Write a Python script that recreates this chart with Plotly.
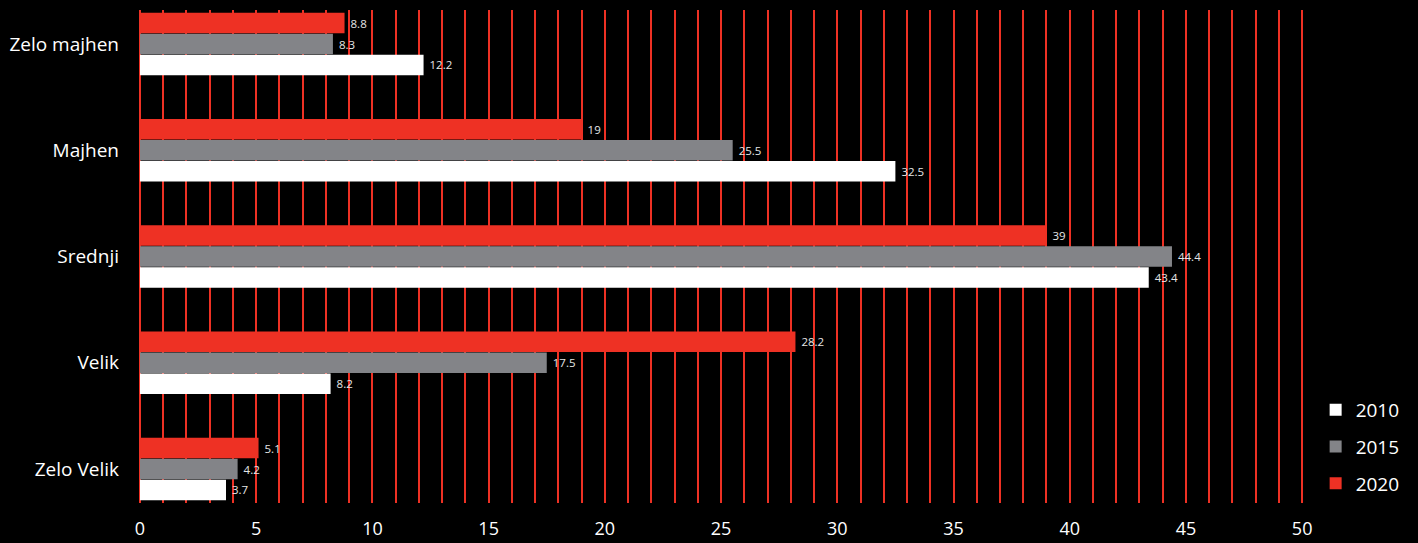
import plotly.graph_objects as go

categories = ["Zelo majhen", "Majhen", "Srednji", "Velik", "Zelo Velik"]
years = ["2010", "2015", "2020"]
v2010 = [12.2, 32.5, 43.4, 8.2, 3.7]
v2015 = [8.3, 25.5, 44.4, 17.5, 4.2]
v2020 = [8.8, 19, 39, 28.2, 5.1]
colors = ["#ffffff", "#838488", "#ee3124"]

fig = go.Figure()
for name, vals, col in zip(years, [v2010, v2015, v2020], colors):
    fig.add_trace(go.Bar(
        y=categories, x=vals, name=name, orientation="h", legendgroup=name,
        marker=dict(color=col, line=dict(width=0)),
        text=["\u00a0" + str(v) for v in vals], textposition="outside",
        textfont=dict(size=11.5, color="#e6e6e6", family="Open Sans"),
        cliponaxis=False,
    ))

fig.update_layout(
    width=1418, height=543,
    paper_bgcolor="black", plot_bgcolor="black",
    margin=dict(l=140, r=114, t=10, b=40),
    barmode="group", bargap=0.41, bargroupgap=0.02,
    font=dict(family="Open Sans", color="white", size=18),
    legend=dict(x=1.01, y=0.0, xanchor="left", yanchor="bottom",
                font=dict(size=19, color="white"), itemwidth=30,
                traceorder="grouped", tracegroupgap=9, bgcolor="rgba(0,0,0,0)"),
    xaxis=dict(range=[0, 50.08], dtick=5, showgrid=True, gridcolor="#ee3124", gridwidth=2,
               minor=dict(dtick=1, showgrid=True, gridcolor="#ee3124", gridwidth=2),
               zeroline=True, zerolinecolor="#ee3124", zerolinewidth=2,
               tickfont=dict(size=18, color="white"), ticks="", showline=False,
               ticklabelstandoff=13, automargin=False),
    yaxis=dict(categoryorder="array", categoryarray=categories[::-1],
               range=[-0.32, 4.32], showgrid=False, ticks="", ticklen=0,
               tickfont=dict(size=19, color="white"), ticklabelstandoff=20,
               automargin=False),
)
fig.write_html("out.html", config={"displayModeBar": False},
               post_script="document.body.style.margin='0';document.body.style.background='black';")
